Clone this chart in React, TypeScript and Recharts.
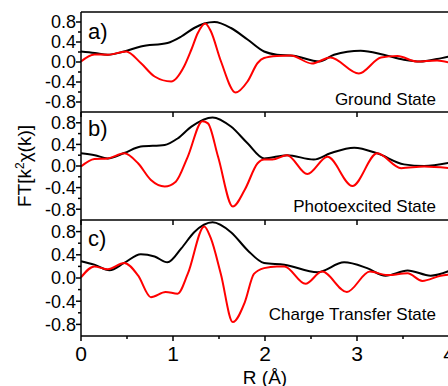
import React from 'react';
import { LineChart, Line, XAxis, YAxis, ReferenceLine } from 'recharts';

const xTicksMajor = [0, 1, 2, 3, 4];
const xTicksAll = [0, 0.5, 1, 1.5, 2, 2.5, 3, 3.5, 4];
const yTicks = [-0.8, -0.6, -0.4, -0.2, 0, 0.2, 0.4, 0.6, 0.8];

// a) ground state
const groundMagR = [0, 0.15, 0.29, 0.47, 0.65, 0.94, 1.09, 1.23, 1.34, 1.45, 1.63, 1.81, 1.99, 2.13, 2.31, 2.59, 2.75, 3.04, 3.29, 3.51, 3.69, 3.87, 4.0];
const groundMag = [0.21, 0.18, 0.146, 0.21, 0.31, 0.38, 0.51, 0.68, 0.77, 0.8, 0.68, 0.45, 0.21, 0.146, 0.126, 0.01, 0.146, 0.226, 0.146, 0.046, 0.01, 0.06, 0.11];
const groundImR = [0, 0.145, 0.29, 0.49, 0.65, 0.8, 0.98, 1.12, 1.2, 1.27, 1.35, 1.41, 1.52, 1.68, 1.81, 1.92, 1.99, 2.13, 2.28, 2.51, 2.71, 3.02, 3.26, 3.44, 3.65, 3.87, 4.0];
const groundIm = [0.01, 0.15, 0.146, 0.21, -0.02, -0.29, -0.39, -0.09, 0.25, 0.58, 0.77, 0.62, 0.02, -0.61, -0.39, -0.02, 0.08, 0.12, 0.13, -0.03, 0.09, -0.23, 0.09, 0.12, 0.01, 0.03, -0.01];

// b) photoexcited state
const photoMagR = [0, 0.15, 0.29, 0.47, 0.65, 0.91, 1.05, 1.2, 1.43, 1.63, 1.81, 1.99, 2.24, 2.53, 2.71, 2.97, 3.22, 3.51, 3.73, 4.0];
const photoMag = [0.235, 0.2, 0.14, 0.24, 0.36, 0.39, 0.51, 0.73, 0.9, 0.73, 0.42, 0.14, 0.2, 0.12, 0.235, 0.34, 0.235, 0.03, 0.0, 0.06];
const photoImR = [0, 0.145, 0.29, 0.47, 0.62, 0.76, 0.91, 1.03, 1.16, 1.32, 1.38, 1.49, 1.65, 1.78, 1.92, 1.99, 2.08, 2.24, 2.46, 2.68, 2.95, 3.22, 3.48, 3.73, 4.0];
const photoIm = [-0.01, 0.13, 0.14, 0.235, 0.05, -0.26, -0.38, -0.29, 0.17, 0.83, 0.79, 0.17, -0.75, -0.44, 0.05, 0.12, 0.12, 0.2, -0.15, 0.17, -0.37, 0.235, -0.04, -0.01, -0.04];

// c) charge transfer state
const ctMagR = [0, 0.145, 0.31, 0.47, 0.65, 0.8, 0.94, 1.09, 1.23, 1.43, 1.63, 1.81, 1.99, 2.21, 2.57, 2.86, 3.11, 3.31, 3.55, 3.8, 4.0];
const ctMag = [0.29, 0.23, 0.135, 0.26, 0.41, 0.37, 0.27, 0.51, 0.79, 0.96, 0.79, 0.48, 0.26, 0.23, 0.1, 0.27, 0.17, 0.04, 0.13, 0.04, 0.12];
const ctImR = [0, 0.145, 0.29, 0.47, 0.62, 0.76, 0.92, 1.05, 1.16, 1.34, 1.41, 1.52, 1.65, 1.78, 1.88, 1.99, 2.13, 2.21, 2.44, 2.62, 2.89, 3.14, 3.33, 3.55, 3.71, 3.91, 4.0];
const ctIm = [0.01, 0.2, 0.15, 0.26, 0.045, -0.33, -0.24, -0.27, 0.07, 0.89, 0.69, 0.07, -0.76, -0.42, 0.07, 0.17, 0.2, 0.2, -0.1, 0.11, -0.24, 0.11, 0.05, 0.08, -0.05, 0.04, 0.06];

const FONT = '"Liberation Sans", Arial, sans-serif';

const toPoints = (rs: number[], vs: number[]) => rs.map((r, i) => ({ r, v: vs[i] }));

const XTick = ({ x, y, payload, labels }: any) => {
  const v = payload.value;
  const major = Number.isInteger(v);
  return (
    <g>
      <line x1={x} y1={y} x2={x} y2={y + (major ? 5 : 3)} stroke="#000" strokeWidth={1.5} />
      {labels && major && (
        <text x={x} y={y + 25} textAnchor="middle" fontSize={21} fontFamily={FONT} fill="#000">
          {v}
        </text>
      )}
    </g>
  );
};

const YTick = ({ x, y, payload }: any) => {
  const v = payload.value;
  const major = Math.abs(v * 2.5 - Math.round(v * 2.5)) < 1e-6;
  return (
    <g>
      <line x1={x - (major ? 5 : 3)} y1={y} x2={x} y2={y} stroke="#000" strokeWidth={1.5} />
      {major && (
        <text x={x - 5} y={y} dy="0.36em" textAnchor="end" fontSize={18} fontFamily={FONT} fill="#000">
          {v.toFixed(1)}
        </text>
      )}
    </g>
  );
};

interface PanelProps {
  top: number;
  height: number;
  axisHeight: number;
  mag: { r: number; v: number }[];
  im: { r: number; v: number }[];
  labels?: boolean;
  topLine?: boolean;
}

const Panel = ({ top, height, axisHeight, mag, im, labels, topLine }: PanelProps) => (
  <div style={{ position: 'absolute', left: 0, top }}>
    <LineChart width={470} height={height} margin={{ top: 12, right: 21, bottom: 10, left: 21 }}>
      <XAxis
        dataKey="r"
        type="number"
        domain={[0, 4]}
        ticks={labels ? xTicksAll : xTicksMajor}
        height={axisHeight}
        tickSize={0}
        tickMargin={0}
        axisLine={{ stroke: '#000', strokeWidth: 1.5 }}
        tick={(p: any) => <XTick {...p} labels={labels} />}
        interval={0}
      />
      <YAxis
        type="number"
        domain={[-1, 1]}
        ticks={yTicks}
        width={60}
        tickSize={0}
        tickMargin={0}
        axisLine={{ stroke: '#000', strokeWidth: 1.5 }}
        tick={(p: any) => <YTick {...p} />}
        interval={0}
      />
      {topLine && <ReferenceLine y={1} stroke="#000" strokeWidth={1.5} />}
      <Line data={mag} dataKey="v" type="monotone" stroke="#000" strokeWidth={2} dot={false} isAnimationActive={false} />
      <Line data={im} dataKey="v" type="monotone" stroke="#ff0000" strokeWidth={2} dot={false} isAnimationActive={false} />
    </LineChart>
  </div>
);

export default function App() {
  return (
    <div style={{ position: 'absolute', left: 0, top: 0, width: 448, height: 386, overflow: 'hidden', background: '#fff' }}>
      <Panel top={0} height={130} axisHeight={8} mag={toPoints(groundMagR, groundMag)} im={toPoints(groundImR, groundIm)} topLine />
      <Panel top={100} height={138} axisHeight={8} mag={toPoints(photoMagR, photoMag)} im={toPoints(photoImR, photoIm)} />
      <Panel top={208} height={178} axisHeight={40} mag={toPoints(ctMagR, ctMag)} im={toPoints(ctImR, ctIm)} labels />
      <svg width={448} height={386} style={{ position: 'absolute', left: 0, top: 0, pointerEvents: 'none' }} fontFamily={FONT}>
        <text x={88} y={38.5} fontSize={22}>a)</text>
        <text x={88} y={136} fontSize={22}>b)</text>
        <text x={88} y={246} fontSize={22}>c)</text>
        <text x={436} y={104.5} fontSize={17} textAnchor="end">Ground State</text>
        <text x={436} y={212} fontSize={17} textAnchor="end">Photoexcited State</text>
        <text x={436} y={320} fontSize={17} textAnchor="end">Charge Transfer State</text>
        <text x={265} y={383.5} fontSize={19} textAnchor="middle">R (Å)</text>
        <text transform="translate(31,166) rotate(-90)" fontSize={19} textAnchor="middle">
          FT[k<tspan fontSize={12} dy={-7}>2</tspan><tspan dy={7}>χ(k)]</tspan>
        </text>
      </svg>
    </div>
  );
}
